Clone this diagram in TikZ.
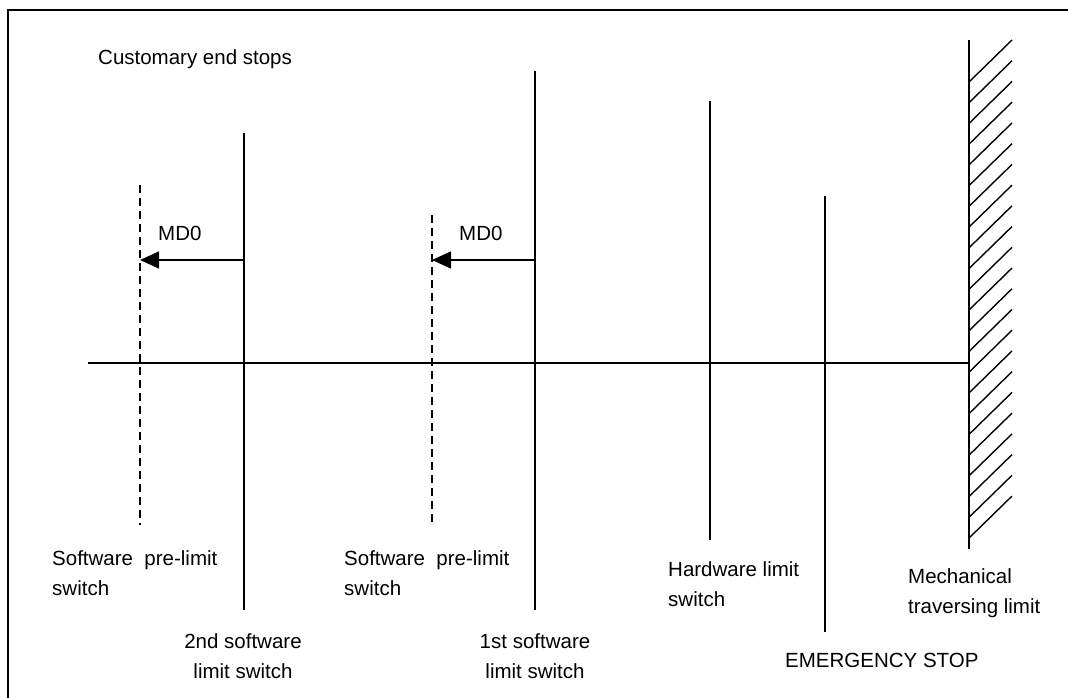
\documentclass[tikz,border=0pt]{standalone}
\usepackage{fontspec}
\setmainfont{Liberation Sans}
\usetikzlibrary{arrows.meta}
\begin{document}
\begin{tikzpicture}[x=1pt,y=-1pt,
  ln/.style={line width=1.4pt},
  frameln/.style={line width=2pt},
  dashln/.style={line width=1.4pt, dash pattern=on 8pt off 5pt},
  md/.style={line width=1.4pt, -{Triangle[length=19pt,width=17pt]}},
  hatchln/.style={line width=1.4pt},
  lbl/.style={font=\fontsize{20.5}{30}\selectfont, inner sep=0pt}]
\useasboundingbox (0,0) rectangle (1068,698);
% frame (cut by the picture edge on the right and bottom)
\draw[frameln] (8,710) -- (8,10) -- (1075,10);
% axis
\coordinate (axL) at (88,363);
\coordinate (axR) at (969,363);
\draw[ln] (axL) -- (axR);
% vertical lines
\coordinate (s2t) at (244,133); \coordinate (s2b) at (244,610);
\coordinate (s1t) at (535,71);  \coordinate (s1b) at (535,610);
\coordinate (hwt) at (710,101); \coordinate (hwb) at (710,540);
\coordinate (est) at (825,196); \coordinate (esb) at (825,632);
\coordinate (p2t) at (140,185); \coordinate (p2b) at (140,525);
\coordinate (p1t) at (432,215); \coordinate (p1b) at (432,525);
\coordinate (wt) at (969,40);   \coordinate (wb) at (969,549);
\draw[ln] (s2t) -- (s2b);
\draw[ln] (s1t) -- (s1b);
\draw[ln] (hwt) -- (hwb);
\draw[ln] (est) -- (esb);
\draw[dashln] (p2t) -- (p2b);
\draw[dashln] (p1t) -- (p1b);
\draw[ln] (wt) -- (wb);
\foreach \i in {0,...,22} \draw[hatchln] (969,82+20.73*\i) -- ++(43,-42);
% MD0 arrows
\coordinate (a2s) at (244,260); \coordinate (a2e) at (140,260);
\coordinate (a1s) at (535,260); \coordinate (a1e) at (432,260);
\draw[md] (a2s) -- (a2e);
\draw[md] (a1s) -- (a1e);
\node[lbl, anchor=base west] (md2) at (158,240) {MD0};
\node[lbl, anchor=base west] (md1) at (459,240) {MD0};
% labels
\node[lbl, anchor=base west] (title) at (98,65) {Customary end stops};
\node[lbl, anchor=base west, align=left] (pre2) at (52,595) {Software~~pre-limit\\switch};
\node[lbl, anchor=base west, align=left] (pre1) at (344,595) {Software~~pre-limit\\switch};
\node[lbl, anchor=base, align=center] (sw2) at (243,678) {2nd software\\limit switch};
\node[lbl, anchor=base, align=center] (sw1) at (535,678) {1st software\\limit switch};
\node[lbl, anchor=base west, align=left] (hw) at (668,606) {Hardware limit\\switch};
\node[lbl, anchor=base west] (es) at (785,667) {EMERGENCY STOP};
\node[lbl, anchor=base west, align=left] (mech) at (908,613) {Mechanical\\traversing limit};
\end{tikzpicture}
\end{document}
